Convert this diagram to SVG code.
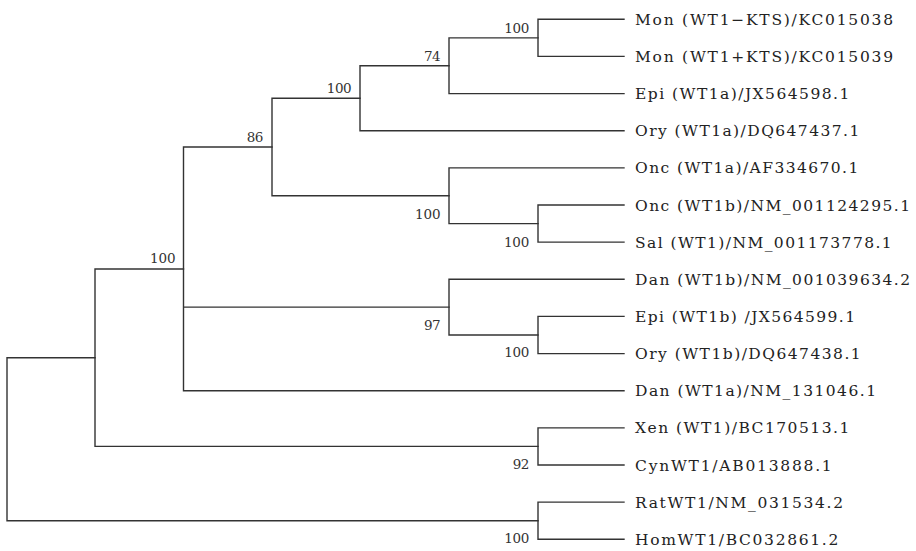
<svg xmlns="http://www.w3.org/2000/svg" width="916" height="551" viewBox="0 0 916 551">
<style>
.br{fill:none;stroke:#333;stroke-width:1.4;stroke-linecap:square}
.lf{font-family:"DejaVu Serif","Liberation Serif",serif;font-size:15.5px;fill:#222}
.bs{font-family:"DejaVu Serif","Liberation Serif",serif;font-size:13.5px;fill:#333}
</style>
<rect width="916" height="551" fill="#fff"/>
<g id="connectors">
<path class="br" d="M95,357.7H7V520.7H538"/>
<path class="br" d="M183.5,269H95V446.4H538"/>
<path class="br" d="M272,147H183.5V390.7H624M183.5,307.1H449"/>
<path class="br" d="M360,98.2H272V195.7H449"/>
<path class="br" d="M449,65.7H360V130.7H624"/>
<path class="br" d="M538,37.9H449V93.6H624"/>
<path class="br" d="M624,19.3H538V56.4H624"/>
<path class="br" d="M624,167.9H449V223.6H538"/>
<path class="br" d="M624,205H538V242.1H624"/>
<path class="br" d="M624,279.3H449V335H538"/>
<path class="br" d="M624,316.4H538V353.6H624"/>
<path class="br" d="M624,427.9H538V465H624"/>
<path class="br" d="M624,502.1H538V539.3H624"/>
</g>
<g id="support">
<text class="bs" x="504.3" y="32.7" textLength="25" lengthAdjust="spacing">100</text>
<text class="bs" x="424" y="60.7" textLength="16.7" lengthAdjust="spacing">74</text>
<text class="bs" x="326.7" y="92.7" textLength="25" lengthAdjust="spacing">100</text>
<text class="bs" x="246.7" y="141.7" textLength="16.7" lengthAdjust="spacing">86</text>
<text class="bs" x="150" y="263.3" textLength="25.7" lengthAdjust="spacing">100</text>
<text class="bs" x="415" y="219" textLength="25.7" lengthAdjust="spacing">100</text>
<text class="bs" x="504" y="246.7" textLength="25.3" lengthAdjust="spacing">100</text>
<text class="bs" x="424" y="330" textLength="16.7" lengthAdjust="spacing">97</text>
<text class="bs" x="504.3" y="357.3" textLength="25" lengthAdjust="spacing">100</text>
<text class="bs" x="512.7" y="469.3" textLength="16.7" lengthAdjust="spacing">92</text>
<text class="bs" x="504.3" y="543.3" textLength="25" lengthAdjust="spacing">100</text>
</g>
<g id="leaf-mon-minus"><text class="lf" x="635" y="24.8" textLength="258" lengthAdjust="spacing">Mon (WT1−KTS)/KC015038</text></g>
<g id="leaf-mon-plus"><text class="lf" x="635" y="61.9" textLength="258" lengthAdjust="spacing">Mon (WT1+KTS)/KC015039</text></g>
<g id="leaf-epi-a"><text class="lf" x="635" y="99.1" textLength="214.3" lengthAdjust="spacing">Epi (WT1a)/JX564598.1</text></g>
<g id="leaf-ory-a"><text class="lf" x="635" y="136.2" textLength="224.3" lengthAdjust="spacing">Ory (WT1a)/DQ647437.1</text></g>
<g id="leaf-onc-a"><text class="lf" x="635" y="173.4" textLength="223.3" lengthAdjust="spacing">Onc (WT1a)/AF334670.1</text></g>
<g id="leaf-onc-b"><text class="lf" x="635" y="210.5" textLength="275" lengthAdjust="spacing">Onc (WT1b)/NM_001124295.1</text></g>
<g id="leaf-sal"><text class="lf" x="635" y="247.6" textLength="256.7" lengthAdjust="spacing">Sal (WT1)/NM_001173778.1</text></g>
<g id="leaf-dan-b"><text class="lf" x="635" y="284.8" textLength="275" lengthAdjust="spacing">Dan (WT1b)/NM_001039634.2</text></g>
<g id="leaf-epi-b"><text class="lf" x="635" y="321.9" textLength="220" lengthAdjust="spacing">Epi (WT1b) /JX564599.1</text></g>
<g id="leaf-ory-b"><text class="lf" x="635" y="359.1" textLength="225.7" lengthAdjust="spacing">Ory (WT1b)/DQ647438.1</text></g>
<g id="leaf-dan-a"><text class="lf" x="635" y="396.2" textLength="241" lengthAdjust="spacing">Dan (WT1a)/NM_131046.1</text></g>
<g id="leaf-xen"><text class="lf" x="635" y="433.4" textLength="214.3" lengthAdjust="spacing">Xen (WT1)/BC170513.1</text></g>
<g id="leaf-cyn"><text class="lf" x="635" y="470.5" textLength="196.7" lengthAdjust="spacing">CynWT1/AB013888.1</text></g>
<g id="leaf-rat"><text class="lf" x="635" y="507.6" textLength="208" lengthAdjust="spacing">RatWT1/NM_031534.2</text></g>
<g id="leaf-hom"><text class="lf" x="635" y="544.8" textLength="203.3" lengthAdjust="spacing">HomWT1/BC032861.2</text></g>
</svg>
